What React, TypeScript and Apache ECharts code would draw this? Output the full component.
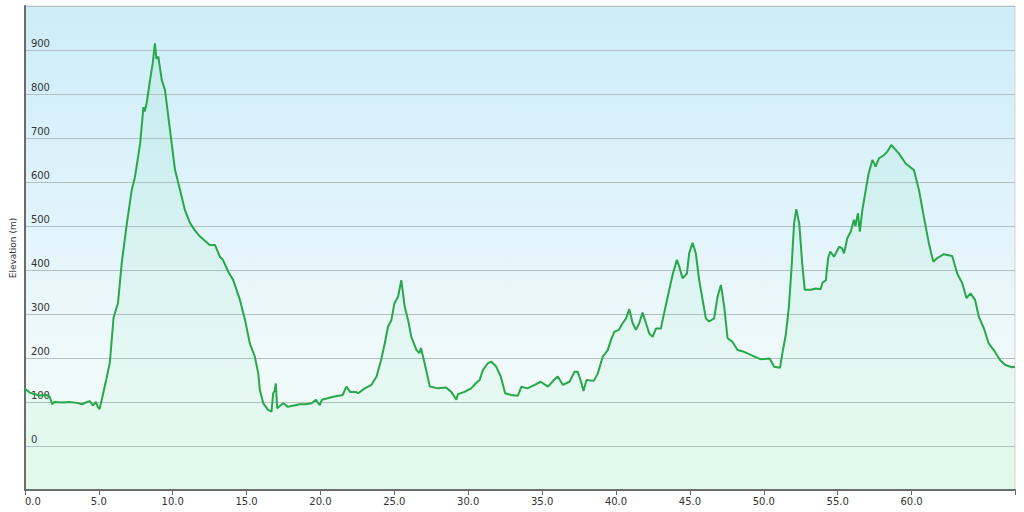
import React, { useEffect, useRef } from "react";
import * as echarts from "echarts";

const distanceKm: number[] = [
  0.0, 0.3, 0.6, 1.0, 1.5, 1.7, 1.85, 2.0, 2.5, 3.0, 3.5, 3.9, 4.2, 4.4, 4.6, 4.8, 4.95, 5.05, 5.2, 5.5,
  5.75, 6.0, 6.3, 6.55, 6.9, 7.23, 7.45, 7.8, 8.02, 8.1, 8.24, 8.47, 8.65, 8.8, 8.9, 9.03, 9.26, 9.48, 9.82, 10.16,
  10.5, 10.83, 11.17, 11.5, 11.85, 12.2, 12.5, 12.86, 13.2, 13.4, 13.76, 14.1, 14.55, 14.9, 15.22, 15.56, 15.79, 15.9, 16.13, 16.46,
  16.69, 16.8, 16.9, 16.98, 17.07, 17.48, 17.8, 18.2, 18.6, 19.0, 19.4, 19.7, 19.95, 20.1, 20.86, 21.5, 21.76, 22.0, 22.4, 22.55,
  23.0, 23.45, 23.8, 24.1, 24.35, 24.57, 24.8, 25.0, 25.25, 25.47, 25.7, 25.93, 26.15, 26.5, 26.7, 26.8, 27.05, 27.4, 27.95, 28.5,
  28.85, 29.2, 29.3, 29.75, 30.2, 30.5, 30.77, 31.0, 31.33, 31.55, 31.9, 32.2, 32.5, 32.9, 33.35, 33.6, 34.0, 34.5, 34.9, 35.4,
  35.8, 36.06, 36.4, 36.85, 37.2, 37.4, 37.6, 37.8, 38.0, 38.5, 38.77, 39.1, 39.44, 39.66, 39.89, 40.2, 40.45, 40.68, 40.9, 41.13,
  41.35, 41.57, 41.8, 42.03, 42.25, 42.48, 42.7, 43.04, 43.15, 43.5, 43.83, 44.12, 44.28, 44.5, 44.8, 44.95, 45.18, 45.4, 45.63, 45.86,
  46.08, 46.3, 46.64, 46.87, 47.1, 47.32, 47.55, 47.88, 48.22, 48.67, 49.12, 49.8, 50.4, 50.7, 51.1, 51.26, 51.5, 51.7, 51.87, 52.05,
  52.2, 52.4, 52.6, 52.77, 53.18, 53.5, 53.85, 53.97, 54.2, 54.35, 54.5, 54.75, 55.1, 55.3, 55.43, 55.65, 55.88, 56.1, 56.2, 56.37,
  56.5, 56.67, 56.9, 57.1, 57.35, 57.57, 57.8, 58.13, 58.36, 58.63, 59.03, 59.14, 59.6, 60.16, 60.5, 60.83, 61.17, 61.47, 61.74, 62.18,
  62.75, 63.09, 63.43, 63.72, 63.99, 64.3, 64.55, 64.9, 65.22, 65.56, 66.0, 66.35, 66.8, 67.0,
];

const elevationM: number[] = [
  130, 122, 118, 115, 116, 110, 95, 100, 99, 100, 98, 95, 100, 102, 92, 100, 88, 84, 105, 150,
  190, 292, 325, 415, 506, 582, 612, 688, 770, 760, 779, 832, 870, 915, 880, 885, 832, 809, 718, 627,
  582, 536, 507, 490, 476, 466, 457, 457, 430, 423, 396, 377, 332, 286, 233, 203, 165, 127, 97, 82,
  78, 120, 125, 142, 86, 97, 89, 92, 95, 95, 97, 105, 93, 105, 112, 116, 135, 123, 123, 120,
  131, 139, 158, 195, 233, 271, 286, 324, 339, 377, 317, 286, 248, 218, 211, 223, 188, 135, 131, 133,
  123, 105, 118, 123, 131, 142, 150, 173, 188, 192, 180, 158, 120, 116, 114, 135, 131, 139, 146, 135,
  150, 158, 139, 146, 169, 169, 150, 125, 150, 148, 165, 203, 218, 241, 260, 264, 279, 290, 311, 279,
  264, 279, 303, 279, 256, 248, 267, 267, 286, 339, 389, 423, 408, 381, 392, 438, 462, 438, 377, 332,
  290, 283, 290, 339, 366, 317, 245, 237, 218, 214, 207, 197, 199, 180, 178, 211, 255, 317, 400, 506,
  538, 506, 415, 355, 355, 358, 356, 371, 377, 426, 442, 430, 453, 449, 438, 472, 487, 514, 500, 529,
  487, 536, 582, 620, 650, 635, 654, 661, 669, 684, 669, 665, 642, 627, 582, 521, 461, 419, 427, 436,
  432, 392, 370, 336, 347, 332, 294, 267, 233, 218, 195, 184, 179, 180,
];

const xTickValues: number[] = [0, 5, 10, 15, 20, 25, 30, 35, 40, 45, 50, 55, 60, 67];
const xLabelValues: number[] = [0, 5, 10, 15, 20, 25, 30, 35, 40, 45, 50, 55, 60];
const yLabelValues: number[] = [0, 100, 200, 300, 400, 500, 600, 700, 800, 900];
const yAxisTitle = "Elevation (m)";

export default function App() {
  const ref = useRef<HTMLDivElement>(null);

  useEffect(() => {
    if (!ref.current) return;
    const chart = echarts.init(ref.current, undefined, { renderer: "svg" });
    const points = distanceKm.map((d, i) => [d, elevationM[i]]);
    const font = "'DejaVu Sans', Verdana, sans-serif";
    chart.setOption({
      animation: false,
      backgroundColor: "#ffffff",
      textStyle: { fontFamily: font },
      grid: {
        left: 23,
        right: 9,
        top: 6,
        bottom: 22,
        show: true,
        borderColor: "#cfd6d9",
        borderWidth: 1,
        backgroundColor: new echarts.graphic.LinearGradient(0, 0, 0, 1, [
          { offset: 0, color: "#cdedf9" },
          { offset: 0.45, color: "#e2f4fb" },
          { offset: 0.75, color: "#f1fafa" },
          { offset: 1, color: "#e8fbf1" },
        ]),
      },
      xAxis: {
        type: "value",
        min: 0,
        max: 67,
        interval: 5,
        axisLine: { show: true, onZero: false, lineStyle: { color: "#6b6b6b", width: 2 } },
        axisTick: { show: true, length: 5, customValues: xTickValues, lineStyle: { color: "#6b6b6b", width: 1 } },
        axisLabel: {
          customValues: xLabelValues,
          formatter: (v: number) => v.toFixed(1),
          color: "#333333",
          fontSize: 10,
          fontFamily: font,
          margin: 6,
          alignMinLabel: "left",
        },
        splitLine: { show: false },
      },
      yAxis: {
        type: "value",
        min: -100,
        max: 1000,
        interval: 100,
        name: yAxisTitle,
        nameLocation: "middle",
        nameGap: 7,
        nameTextStyle: { color: "#333333", fontSize: 9, fontFamily: font },
        axisLine: { show: true, onZero: false, lineStyle: { color: "#6b6b6b", width: 2 } },
        axisTick: { show: false },
        axisLabel: {
          inside: true,
          customValues: yLabelValues,
          color: "#333333",
          fontSize: 10,
          fontFamily: font,
          margin: 6,
          verticalAlign: "bottom",
          padding: [0, 0, 2, 0],
        },
        splitLine: { show: true, lineStyle: { color: "#b4bfc3", width: 1 } },
      },
      series: [
        {
          type: "line",
          data: points,
          showSymbol: false,
          symbol: "none",
          smooth: false,
          lineStyle: { color: "#27a84a", width: 2 },
          areaStyle: {
            color: new echarts.graphic.LinearGradient(0, 0, 0, 1, [
              { offset: 0, color: "rgba(90, 210, 140, 0.16)" },
              { offset: 1, color: "rgba(90, 220, 150, 0.08)" },
            ]),
            origin: "start",
          },
        },
      ],
    });
    return () => chart.dispose();
  }, []);

  return (
    <div
      ref={ref}
      style={{ position: "fixed", left: 0, top: 0, width: 1024, height: 512 }}
    />
  );
}
